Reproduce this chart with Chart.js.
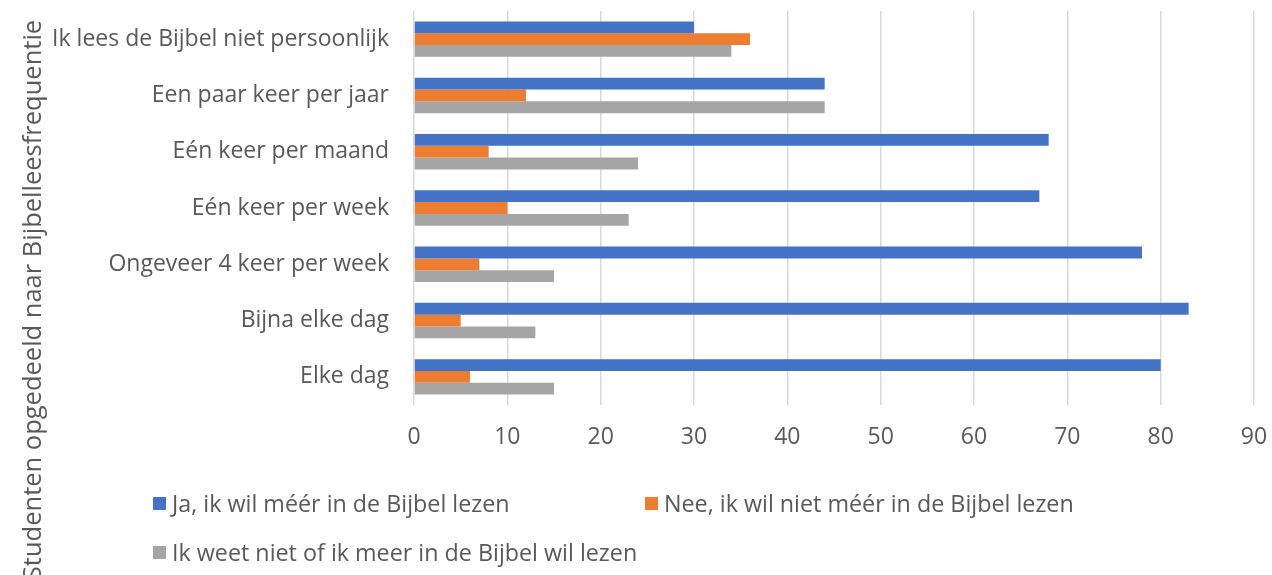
<!DOCTYPE html>
<html>
<head>
<meta charset="utf-8">
<script src="https://cdn.jsdelivr.net/npm/chart.js@4/dist/chart.umd.min.js"></script>
<style>
  html, body { margin: 0; padding: 0; background: #ffffff; }
  #wrap { position: relative; width: 1272px; height: 575px; overflow: hidden; background: #fff; }
  #chartBox { position: absolute; left: 0; top: 0; width: 1272px; height: 462px; }
  #ytitle {
    position: absolute; left: 31px; top: 300px;
    transform: translate(-50%, -50%) rotate(-90deg);
    white-space: nowrap; font-family: "Open Sans", sans-serif; font-size: 25.5px; color: #595959;
  }
  #legend { position: absolute; left: 0; top: 0; width: 1272px; height: 575px; font-family: "Open Sans", sans-serif; font-size: 23.3px; color: #595959; }
  .li { position: absolute; white-space: nowrap; display: flex; align-items: center; transform: translateY(-50%); }
  .sw { width: 13px; height: 13px; margin-right: 6px; display: inline-block; }
</style>
</head>
<body>
<div id="wrap">
  <div id="chartBox"><canvas id="c"></canvas></div>
  <div id="ytitle"></div>
  <div id="legend"></div>
</div>
<script>
const categories = [
  "Ik lees de Bijbel niet persoonlijk",
  "Een paar keer per jaar",
  "Eén keer per maand",
  "Eén keer per week",
  "Ongeveer 4 keer per week",
  "Bijna elke dag",
  "Elke dag"
];
const seriesNames = [
  "Ja, ik wil méér in de Bijbel lezen",
  "Nee, ik wil niet méér in de Bijbel lezen",
  "Ik weet niet of ik meer in de Bijbel wil lezen"
];
const jaValues   = [30, 44, 68, 67, 78, 83, 80];
const neeValues  = [36, 12, 8, 10, 7, 5, 6];
const wnValues   = [34, 44, 24, 23, 15, 13, 15];
const seriesColors = ["#4472C4", "#ED7D31", "#A5A5A5"];
const xTicks = [0, 10, 20, 30, 40, 50, 60, 70, 80, 90];
const yTitle = "Studenten opgedeeld naar Bijbelleesfrequentie";

const seriesValues = [jaValues, neeValues, wnValues];

document.getElementById('ytitle').textContent = yTitle;

// legend (HTML)
const legendPos = [[153, 503], [645, 503], [153, 552]];
const lg = document.getElementById('legend');
seriesNames.forEach((n, i) => {
  const d = document.createElement('div');
  d.className = 'li';
  d.style.left = legendPos[i][0] + 'px';
  d.style.top = legendPos[i][1] + 'px';
  const s = document.createElement('span');
  s.className = 'sw';
  s.style.background = seriesColors[i];
  const t = document.createElement('span');
  t.textContent = n;
  d.appendChild(s); d.appendChild(t);
  lg.appendChild(d);
});

const tickFont = { family: 'Open Sans', size: 23 };

new Chart(document.getElementById('c'), {
  type: 'bar',
  data: {
    labels: categories,
    datasets: seriesNames.map((n, i) => ({
      label: n,
      data: seriesValues[i],
      backgroundColor: seriesColors[i],
      borderWidth: 0,
      barPercentage: 1.0,
      categoryPercentage: 0.63
    }))
  },
  options: {
    indexAxis: 'y',
    responsive: true,
    maintainAspectRatio: false,
    animation: false,
    layout: { padding: { left: 0, right: 18, top: 11, bottom: 0 } },
    plugins: { legend: { display: false }, tooltip: { enabled: false } },
    scales: {
      x: {
        min: 0, max: 90,
        afterBuildTicks: (s) => { s.ticks = xTicks.map(v => ({ value: v })); },
        afterFit: (s) => { s.height = 57; s.paddingLeft = 0; s.paddingRight = 0; },
        grid: { color: '#d9d9d9', lineWidth: 1.5, drawTicks: false },
        border: { display: false },
        ticks: { color: '#595959', font: tickFont, padding: 19 }
      },
      y: {
        afterFit: (s) => { s.width = 414; s.paddingTop = 0; s.paddingBottom = 0; },
        grid: { display: false, drawTicks: false },
        border: { display: false },
        ticks: { color: '#595959', font: tickFont, padding: 25 }
      }
    }
  }
});
</script>
</body>
</html>
